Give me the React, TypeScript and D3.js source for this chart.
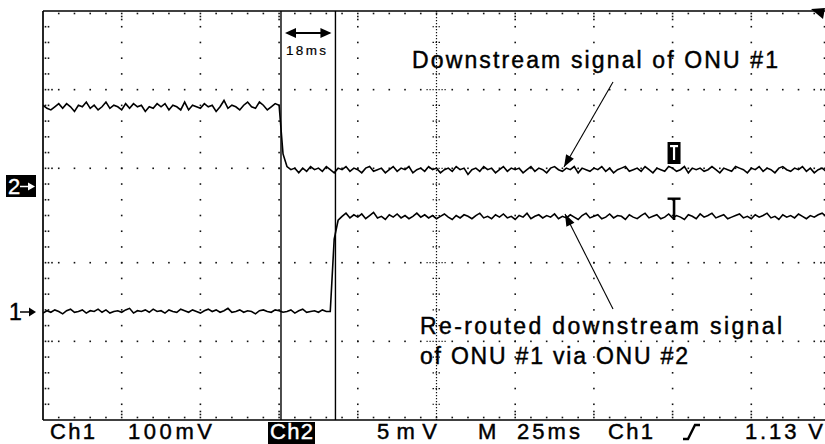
import React from 'react';
import * as d3 from 'd3';

// ---- data (time in ms, 25 ms/div; Ch1 in mV, 100 mV/div; Ch2 in mV, 5 mV/div) ----
const timeDomain: [number, number] = [0, 250];
const sampleStep = 1.25;

const ch2Values = [
  5.2, 5.0, 4.9, 5.1, 5.3, 5.0, 5.3, 5.1, 4.8, 5.2,
  5.1, 5.4, 5.0, 5.2, 4.9, 5.1, 5.4, 5.0, 5.2, 5.1,
  4.9, 5.3, 5.0, 5.3, 5.1, 5.2, 4.8, 5.1, 5.0, 5.3,
  5.1, 5.3, 4.9, 5.2, 5.1, 4.9, 5.4, 4.9, 5.2, 5.1,
  5.0, 5.3, 5.1, 5.2, 4.8, 5.1, 5.5, 5.0, 5.2, 5.1,
  4.9, 5.2, 5.4, 5.1, 5.0, 5.4, 5.2, 4.9, 5.1, 5.3,
  5.2, 2.1, 1.3, 1.1, 1.2, 0.9, 1.2, 1.0, 1.3, 1.1,
  1.2, 1.0, 1.3, 1.1, 0.9, 1.2, 1.1, 1.3, 1.0, 1.2,
  1.1, 0.9, 1.2, 1.3, 1.0, 1.1, 1.2, 0.9, 1.1, 1.3,
  1.0, 1.2, 1.1, 1.3, 0.9, 1.1, 1.2, 1.0, 1.3, 1.1,
  1.2, 0.9, 1.1, 1.2, 1.0, 1.3, 1.1, 1.2, 0.8, 1.1,
  1.2, 1.0, 1.3, 1.1, 1.2, 0.9, 1.1, 1.3, 1.0, 1.2,
  1.1, 1.2, 0.9, 1.1, 1.3, 1.0, 1.2, 1.1, 0.9, 1.2,
  1.3, 1.1, 1.0, 1.2, 1.1, 1.3, 0.9, 1.2, 1.1, 1.0,
  1.2, 1.1, 1.3, 1.0, 1.2, 0.9, 1.1, 1.2, 1.3, 1.0,
  1.1, 1.2, 1.0, 1.3, 1.1, 0.9, 1.2, 1.1, 1.0, 1.3,
  1.2, 1.0, 1.1, 1.3, 0.9, 1.2, 1.1, 1.2, 1.0, 1.1,
  1.3, 1.1, 0.9, 1.2, 1.1, 1.0, 1.3, 1.2, 1.1, 0.9,
  1.2, 1.1, 1.3, 1.0, 1.2, 1.1, 0.9, 1.2, 1.3, 1.1,
  1.0, 1.2, 1.1, 1.3, 1.0, 1.2, 0.9, 1.1, 1.2, 1.0,
  1.2,
];

const ch1Values = [
  -2, 1, -1, 2, 0, -3, 1, 3, -1, 0,
  2, -2, 1, 0, 3, -1, 2, -2, 0, 1,
  -1, 2, 4, -2, 1, 0, 2, -1, 3, 0,
  1, -2, 2, 0, -1, 3, 1, -1, 2, 0,
  -2, 1, 3, 0, 2, -1, 1, 4, -1, 0,
  2, -1, 1, 0, -3, 1, 2, 0, -1, 2,
  1, -1, 0, 2, -2, 1, 3, -1, 0, 1,
  -1, 2, 0, 0, 92, 116, 121, 125, 119, 123,
  120, 124, 118, 122, 126, 119, 121, 117, 123, 120,
  124, 119, 122, 118, 121, 125, 120, 123, 119, 122,
  118, 121, 124, 120, 117, 122, 119, 123, 121, 118,
  122, 125, 119, 121, 118, 123, 120, 124, 119, 121,
  117, 122, 120, 125, 118, 121, 123, 119, 122, 120,
  124, 118, 121, 119, 123, 120, 117, 122, 125, 119,
  121, 123, 118, 120, 124, 119, 122, 121, 117, 123,
  120, 118, 122, 125, 119, 121, 123, 118, 120, 124,
  119, 122, 120, 117, 123, 121, 118, 124, 120, 122,
  125, 119, 121, 123, 118, 120, 122, 124, 119, 121,
  118, 123, 120, 122, 125, 119, 121, 117, 123, 120,
  122, 119, 124, 121, 118, 122, 120, 123, 125, 121,
  120,
];

const cursorTimes = [75.6, 92.9];
const cursorLabel = '18ms';
const triggerTime = 200.3;
const annotationTop = 'Downstream signal of ONU #1';
const annotationBottom = ['Re-routed downstream signal', 'of ONU #1 via ONU #2'];
const statusTexts = ['Ch1', '100mV', 'Ch2', '5mV', 'M', '25ms', 'Ch1', '1.13 V'];

// ---- layout ----
const W = 825;
const H = 444;
const PL = 43, PR = 830, PT = 11, PB = 420;
const FONT = "'Liberation Sans', Arial, Helvetica, sans-serif";
const statusPos: [number, number][] = [
  [50, 45], [128, 84], [270, 43], [377, 60], [478, 24], [517, 63], [608, 45], [745, 78],
];

function arrowHead(x1: number, y1: number, x2: number, y2: number, len: number, half: number) {
  const dx = x2 - x1, dy = y2 - y1;
  const L = Math.hypot(dx, dy);
  const ux = dx / L, uy = dy / L;
  const bx = x2 - ux * len, by = y2 - uy * len;
  return `${x2},${y2} ${bx - uy * half},${by + ux * half} ${bx + uy * half},${by - ux * half}`;
}

export default function App() {
  const x = d3.scaleLinear().domain(timeDomain).range([PL, PR]);
  const yCh1 = d3.scaleLinear().domain([0, 100]).range([311.5, 311.5 - 78.65]);
  const yCh2 = d3.scaleLinear().domain([0, 5]).range([187, 187 - 78.65]);
  const gy = d3.scaleLinear().domain([0, 26]).range([PT, PB]);
  const majorRows = [5, 10, 16, 21];

  const line1 = d3.line<number>().x((_, i) => x(i * sampleStep)).y((d) => yCh1(d));
  const line2 = d3.line<number>().x((_, i) => x(i * sampleStep)).y((d) => yCh2(d));

  const dots: React.ReactElement[] = [];
  const dot = (cx: number, cy: number, key: string) =>
    dots.push(<rect key={key} x={cx - 0.8} y={cy - 0.8} width={1.6} height={1.6} fill="#111" />);

  const minorJ = d3.range(1, 50);
  const minorK = d3.range(1, 26);
  const centerX = x(125);

  minorJ.forEach((j) => {
    const xx = x(j * 5);
    dot(xx, PT + 2.5, `t${j}`);
    dot(xx, PB - 2.5, `b${j}`);
    if (j % 5 === 0 && j !== 25) {
      dot(xx, PT + 5.5, `t2${j}`);
      dot(xx, PT + 8.5, `t3${j}`);
      dot(xx, PB - 5.5, `b2${j}`);
      dot(xx, PB - 8.5, `b3${j}`);
    }
  });
  minorK.forEach((k) => {
    const yy = gy(k);
    dot(PL + 2.5, yy, `l${k}`);
    dot(PL + 5.5, yy, `l2${k}`);
    dot(PR - 2.5, yy, `r${k}`);
    dot(PR - 5.5, yy, `r2${k}`);
    if (majorRows.includes(k)) {
      dot(PL + 9, yy, `l3${k}`);
      dot(PR - 9, yy, `r3${k}`);
    }
  });
  minorJ.filter((j) => j % 5 === 0 && j !== 25).forEach((j) => {
    minorK.forEach((k) => dot(x(j * 5), gy(k), `c${j}_${k}`));
  });
  majorRows.forEach((k) => {
    minorJ.filter((j) => j !== 25).forEach((j) => dot(x(j * 5), gy(k), `rw${k}_${j}`));
  });

  const cx1 = x(cursorTimes[0]);
  const cx2 = x(cursorTimes[1]);
  const ay = 33;

  const a1from: [number, number] = [613, 82];
  const a1to: [number, number] = [564, 167];
  const a2from: [number, number] = [613, 309];
  const a2to: [number, number] = [565, 214];

  const tx = x(triggerTime);
  const textStroke = { stroke: '#000', strokeWidth: 0.45 };

  return (
    <svg width={W} height={H} style={{ position: 'absolute', left: 0, top: 0, background: '#fff' }}
      fontFamily={FONT}>
      <rect x={0} y={0} width={W} height={H} fill="#fff" />
      <defs>
        <clipPath id="plot">
          <rect x={PL} y={PT} width={PR - PL} height={PB - PT} />
        </clipPath>
      </defs>

      <g>{dots}</g>
      <line x1={centerX} x2={centerX} y1={PT} y2={PB} stroke="#111" strokeWidth={1.2} strokeDasharray="1.2 1.8" />
      {minorK.map((k) => (
        <g key={`ct${k}`}>
          {majorRows.includes(k) ? (
            <line x1={centerX - 10} x2={centerX + 10} y1={gy(k)} y2={gy(k)} stroke="#111" strokeWidth={1.2} strokeDasharray="1.2 1.8" />
          ) : (
            <line x1={centerX - 4} x2={centerX + 4} y1={gy(k)} y2={gy(k)} stroke="#111" strokeWidth={1.2} strokeDasharray="1.5 1.5" />
          )}
        </g>
      ))}

      <line x1={PL} x2={PL} y1={PT} y2={PB} stroke="#000" strokeWidth={1.7} />
      <line x1={PL} x2={PR} y1={PT} y2={PT} stroke="#000" strokeWidth={1.7} />
      <line x1={PL} x2={PR} y1={PB} y2={PB} stroke="#000" strokeWidth={1.7} />
      <line x1={PR} x2={PR} y1={PT} y2={PB} stroke="#000" strokeWidth={1.7} />

      <line x1={cx1} x2={cx1} y1={PT} y2={PB} stroke="#000" strokeWidth={1.4} />
      <line x1={cx2} x2={cx2} y1={PT} y2={PB} stroke="#000" strokeWidth={1.4} />
      <line x1={cx1 + 6} x2={cx2 - 6} y1={ay} y2={ay} stroke="#000" strokeWidth={1.8} />
      <polygon points={arrowHead(cx2, ay, cx1 + 4, ay, 11, 5)} fill="#000" />
      <polygon points={arrowHead(cx1, ay, cx2 - 4, ay, 11, 5)} fill="#000" />
      <text x={cx1 + 5} y={55} fontSize={13.5} textLength={40} lengthAdjust="spacing" fill="#000"
        stroke="#000" strokeWidth={0.2}>{cursorLabel}</text>

      <g clipPath="url(#plot)">
        <path d={line2(ch2Values) || ''} fill="none" stroke="#000" strokeWidth={1.6} strokeLinejoin="miter" />
        <path d={line1(ch1Values) || ''} fill="none" stroke="#000" strokeWidth={1.6} strokeLinejoin="miter" />
      </g>

      <rect x={tx - 6} y={142} width={13} height={22} fill="#000" />
      <rect x={tx - 3.5} y={145} width={8} height={2.2} fill="#fff" />
      <rect x={tx - 0.6} y={145} width={2.2} height={15} fill="#fff" />
      <rect x={tx - 6} y={197.5} width={13} height={2.4} fill="#000" />
      <rect x={tx - 0.8} y={198} width={2.6} height={22} fill="#000" />

      <polygon points="811,9 825,8 823,19" fill="#000" />

      <rect x={6} y={175} width={30} height={22} fill="#000" />
      <text x={8} y={193.5} fontSize={22} fill="#fff" stroke="#fff" strokeWidth={0.4}>2</text>
      <line x1={20} x2={29} y1={186.5} y2={186.5} stroke="#fff" strokeWidth={1.5} />
      <polygon points={arrowHead(20, 186.5, 35, 186.5, 7, 4)} fill="#fff" />
      <text x={9} y={320} fontSize={23} fill="#000" {...textStroke}>1</text>
      <line x1={20} x2={29} y1={312} y2={312} stroke="#000" strokeWidth={1.5} />
      <polygon points={arrowHead(20, 312, 36, 312, 7, 4.5)} fill="#000" />

      <text x={412} y={68} fontSize={23} textLength={366} lengthAdjust="spacing" fill="#000" {...textStroke}>{annotationTop}</text>
      <line x1={a1from[0]} y1={a1from[1]} x2={a1to[0]} y2={a1to[1]} stroke="#000" strokeWidth={1.1} />
      <polygon points={arrowHead(a1from[0], a1from[1], a1to[0], a1to[1], 12, 4.5)} fill="#000" />
      <text x={420} y={334} fontSize={23} textLength={362} lengthAdjust="spacing" fill="#000" {...textStroke}>{annotationBottom[0]}</text>
      <text x={420} y={364} fontSize={23} textLength={268} lengthAdjust="spacing" fill="#000" {...textStroke}>{annotationBottom[1]}</text>
      <line x1={a2from[0]} y1={a2from[1]} x2={a2to[0]} y2={a2to[1]} stroke="#000" strokeWidth={1.1} />
      <polygon points={arrowHead(a2from[0], a2from[1], a2to[0], a2to[1], 12, 4.5)} fill="#000" />

      <rect x={268} y={422} width={47} height={22} fill="#000" />
      {statusTexts.map((t, i) => (
        <text key={i} x={statusPos[i][0]} y={439} fontSize={22} textLength={statusPos[i][1]}
          lengthAdjust="spacing" fill={i === 2 ? '#fff' : '#000'}
          stroke={i === 2 ? '#fff' : '#000'} strokeWidth={0.45}>{t}</text>
      ))}
      <path d="M683,439 H688 L695,425 H700" fill="none" stroke="#000" strokeWidth={2.4} />
    </svg>
  );
}
